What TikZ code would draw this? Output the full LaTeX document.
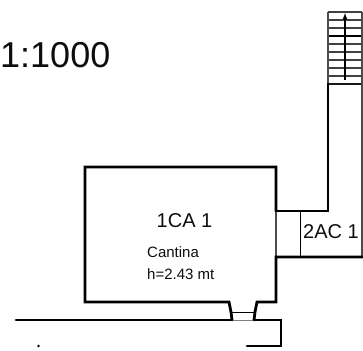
\documentclass[tikz,border=0pt]{standalone}
\usepackage{fontspec}
\setmainfont{Liberation Sans}
\begin{document}
\begin{tikzpicture}[x=1pt, y=-1pt, every node/.style={inner sep=0pt, text=black!95}]
\tikzset{wall/.style={line width=2.8pt, line cap=round, line join=miter},
  thin wall/.style={line width=1.2pt, black!70},
  tread/.style={line width=1.4pt, black!75}}
\useasboundingbox (0,0) rectangle (363,350);
\node (scale) [anchor=west, font=\fontsize{36}{36}\selectfont] at (0,55) {1:1000};
% stairs
\foreach \y in {12,20,28,44,52,60,68,76} {
  \draw[tread] (328,\y) -- (362,\y);
}
\draw[line width=2pt] (328,36) -- (362,36);
\draw[line width=1.1pt, black!90] (328,84) -- (362,84);
\draw[thin wall] (328,12) -- (328,84);
\draw[thin wall] (362,12) -- (362,84);
\draw[-latex, line width=1.1pt] (345,80) -- (345,13);
% corridor
\draw[wall] (328,84) -- (328,211) -- (276,211);
\draw[thin wall] (362,84) -- (362,257);
\draw[thin wall] (276,211) -- (276,257);
\draw[line width=.9pt] (300,211) -- (300,257);
\draw[wall] (363,257) -- (276,257) -- (276,302) -- (257,302) -- (255,312) -- (254,320);
% room
\draw[wall] (276,211) -- (276,167) -- (85,167) -- (85,302) -- (229,302) -- (231,312) -- (232,320);
% door and outside
\draw[line width=.9pt] (232,312) -- (254,312);
\draw[line width=.9pt, black!50] (232,320) -- (254,320);
\draw[wall] (16,320) -- (232,320);
\draw[wall] (254,320) -- (281,320) -- (281,346) -- (247,346);
\fill (38.5,346) circle (1.3pt);
% labels
\node (room) at (184.5,221) [font=\fontsize{20}{20}\selectfont] {1CA 1};
\node (name) at (147,252) [anchor=west, font=\fontsize{15}{15}\selectfont] {Cantina};
\node (height) at (147,274) [anchor=west, font=\fontsize{15}{15}\selectfont] {h=2.43 mt};
\node (corridor) at (331,232) [font=\fontsize{20}{20}\selectfont] {2AC 1};
\end{tikzpicture}
\end{document}
